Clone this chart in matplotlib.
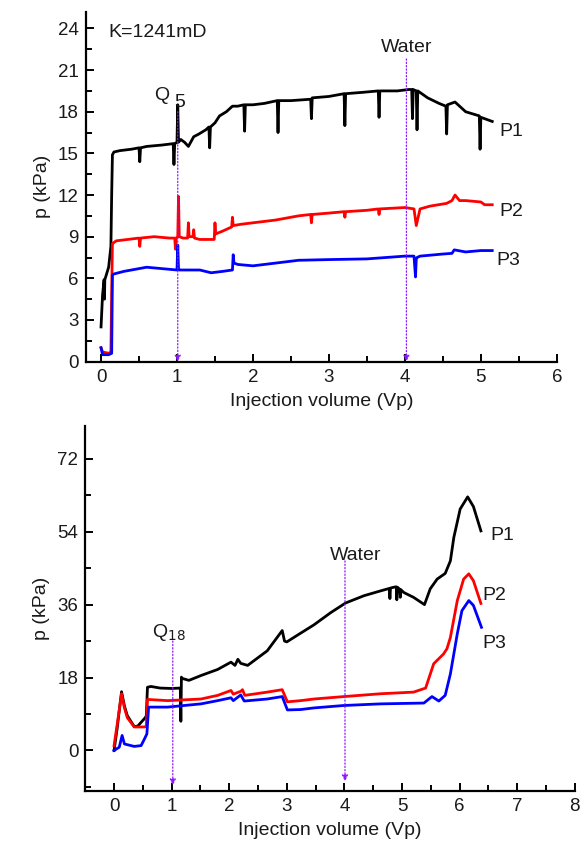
import numpy as np
import matplotlib
matplotlib.use('Agg')
import matplotlib.pyplot as plt
from matplotlib.ticker import MultipleLocator

plt.rcParams['font.family'] = ['Liberation Sans', 'DejaVu Sans']
plt.rcParams['font.size'] = 13

# ---- top panel (K=1241mD) ----
top_p1_x = [0, 0.02, 0.04, 0.045, 0.05, 0.1, 0.13, 0.14, 0.15, 0.17, 0.25, 0.4, 0.5, 0.51, 0.52,
            0.6, 0.8, 0.95, 0.96, 0.97, 1.0, 1.01, 1.02, 1.05, 1.1, 1.15, 1.17, 1.22, 1.29, 1.38,
            1.42, 1.43, 1.44, 1.5, 1.56, 1.65, 1.73, 1.8, 1.88, 1.89, 1.9, 2.0, 2.15, 2.32, 2.33,
            2.34, 2.5, 2.76, 2.77, 2.78, 3.0, 3.2, 3.21, 3.22, 3.45, 3.65, 3.66, 3.67, 3.9, 4.05,
            4.09, 4.10, 4.11, 4.15, 4.16, 4.17, 4.3, 4.45, 4.54, 4.55, 4.56, 4.66, 4.8, 4.98, 4.99,
            5.0, 5.15]
top_p1_y = [2.5, 4.8, 5.9, 4.5, 5.9, 6.8, 8.3, 12, 14.9, 15.1, 15.2, 15.3, 15.4, 14.4, 15.4,
            15.5, 15.6, 15.7, 14.2, 15.7, 15.8, 18.5, 15.8, 16.0, 15.8, 15.5, 15.7, 16.2, 16.4, 16.7,
            16.9, 15.4, 16.9, 17.2, 17.7, 18.0, 18.4, 18.4, 18.5, 16.6, 18.5, 18.5, 18.6, 18.8, 16.5,
            18.8, 18.8, 18.9, 17.5, 19.0, 19.1, 19.3, 17.0, 19.3, 19.4, 19.5, 17.6, 19.5, 19.5, 19.6,
            19.6, 17.5, 19.6, 19.5, 16.7, 19.5, 19.0, 18.6, 18.4, 16.4, 18.5, 18.7, 18.0, 17.7, 15.3,
            17.6, 17.3]

top_p2_x = [0, 0.02, 0.1, 0.13, 0.14, 0.15, 0.2, 0.35, 0.5, 0.51, 0.52, 0.7, 0.9, 0.97, 0.98,
            0.99, 1.01, 1.02, 1.03, 1.08, 1.14, 1.15, 1.16, 1.21, 1.22, 1.23, 1.3, 1.45, 1.49, 1.5,
            1.51, 1.6, 1.72, 1.73, 1.74, 1.85, 2.0, 2.3, 2.6, 2.76, 2.77, 2.78, 3.0, 3.2, 3.21, 3.22,
            3.5, 3.65, 3.66, 3.67, 4.0, 4.12, 4.15, 4.2, 4.33, 4.55, 4.62, 4.66, 4.72, 4.8, 5.0,
            5.05, 5.15]
top_p2_y = [1.0, 0.7, 0.6, 0.7, 5, 8.5, 8.7, 8.8, 8.9, 8.3, 8.9, 9.0, 8.9, 8.9, 8.1,
            8.9, 9.0, 11.9, 9.0, 8.9, 8.9, 10.0, 9.0, 9.0, 9.5, 8.9, 8.8, 8.8, 8.8, 10.0,
            9.2, 9.4, 9.7, 10.4, 9.8, 9.9, 10.0, 10.2, 10.5, 10.6, 10.0, 10.6, 10.7, 10.8, 10.4, 10.8,
            10.9, 11.0, 10.6, 11.0, 11.1, 11.0, 9.8, 11.0, 11.2, 11.4, 11.6, 12.0, 11.6, 11.6, 11.5,
            11.3, 11.3]

top_p3_x = [0, 0.02, 0.1, 0.14, 0.15, 0.16, 0.3, 0.6, 0.8, 1.0, 1.01, 1.02, 1.03, 1.1, 1.3,
            1.45, 1.6, 1.73, 1.74, 1.75, 1.8, 2.0, 2.3, 2.6, 3.0, 3.5, 4.0, 4.12, 4.14, 4.15, 4.16,
            4.2, 4.5, 4.62, 4.65, 4.8, 5.0, 5.15]
top_p3_y = [1.0, 0.5, 0.5, 0.6, 6.2, 6.3, 6.5, 6.8, 6.7, 6.6, 8.4, 6.7, 6.6, 6.6, 6.6,
            6.4, 6.5, 6.6, 7.7, 7.1, 7.0, 6.9, 7.1, 7.3, 7.35, 7.4, 7.6, 7.6, 6.1, 7.4, 7.5,
            7.6, 7.75, 7.8, 8.05, 7.9, 8.0, 8.0]

# ---- bottom panel ----
bot_p1_x = [0, 0.05, 0.13, 0.18, 0.23, 0.35, 0.41, 0.53, 0.56, 0.58, 0.64, 0.8, 1.0, 1.15,
            1.16, 1.17, 1.18, 1.3, 1.51, 1.8, 2.03, 2.1, 2.15, 2.2, 2.32, 2.66, 2.92, 2.96,
            3.0, 3.2, 3.47, 3.76, 4.02, 4.34, 4.63, 4.78, 4.79, 4.8, 4.86, 4.9, 4.91, 4.92,
            4.96, 4.97, 4.98, 5.03, 5.2, 5.39, 5.49, 5.61, 5.75, 5.84, 5.9, 6.01, 6.14, 6.24, 6.37]
bot_p1_y = [0, 5, 14.5, 11, 8.6, 5.9, 6.0, 7.9, 8.5, 15.6, 15.8, 15.4, 15.3, 15.4,
            7.2, 18.1, 17.8, 17.3, 18.5, 20.0, 21.8, 21.0, 22.5, 21.5, 21.0, 24.6, 29.6, 27.0,
            26.8, 28.6, 31.0, 34.0, 36.4, 38.2, 39.4, 40.0, 37.5, 40.1, 40.3, 40.4, 37.2, 40.3,
            39.8, 37.8, 39.7, 39.0, 37.8, 36.0, 39.9, 42.3, 43.7, 46.8, 52.6, 59.6, 62.6, 60.2, 54.2]

bot_p2_x = [0, 0.05, 0.13, 0.18, 0.23, 0.35, 0.53, 0.56, 0.58, 0.93, 1.51, 1.8, 2.03, 2.07,
            2.2, 2.23, 2.27, 2.66, 2.92, 3.01, 3.24, 3.47, 3.99, 4.63, 5.2, 5.41, 5.55, 5.72,
            5.78, 5.84, 5.96, 6.07, 6.16, 6.24, 6.37]
bot_p2_y = [1.2, 6, 14.0, 10.5, 8.1, 5.8, 5.8, 6.0, 12.6, 12.3, 12.7, 13.6, 14.8, 13.9,
            14.6, 15.0, 13.6, 14.4, 15.0, 12.0, 12.3, 12.7, 13.3, 14.0, 14.4, 15.4, 21.4, 23.8,
            25.1, 27.9, 37.0, 42.3, 43.6, 41.9, 36.3]

bot_p3_x = [0, 0.09, 0.14, 0.18, 0.35, 0.47, 0.53, 0.57, 0.6, 0.93, 1.51, 1.8, 2.03, 2.07,
            2.2, 2.26, 2.66, 2.92, 3.01, 3.24, 3.47, 3.99, 4.63, 5.38, 5.52, 5.64, 5.75, 5.84,
            5.96, 6.04, 6.16, 6.24, 6.38]
bot_p3_y = [0, 0.8, 3.7, 1.6, 1.0, 1.2, 2.9, 4.1, 10.7, 10.7, 11.5, 12.3, 13.0, 12.3,
            13.7, 12.2, 12.7, 13.3, 10.0, 10.1, 10.5, 11.1, 11.5, 11.7, 13.3, 12.2, 13.6, 18.9,
            28.8, 34.5, 37.0, 35.8, 30.4]

purple = '#8c1aff'
txt = '#1a1a1a'
lw = 2.0
fs = 14


def style_axes(ax, xmaj, ymaj):
    for s in ['top', 'right']:
        ax.spines[s].set_visible(False)
    for s in ['left', 'bottom']:
        ax.spines[s].set_linewidth(1.6)
    ax.xaxis.set_major_locator(MultipleLocator(xmaj))
    ax.xaxis.set_minor_locator(MultipleLocator(xmaj / 2))
    ax.yaxis.set_major_locator(MultipleLocator(ymaj))
    ax.yaxis.set_minor_locator(MultipleLocator(ymaj / 2))
    ax.tick_params(which='both', direction='in', width=1.4, colors='black', labelcolor=txt)
    ax.tick_params(which='major', length=6, labelsize=13.5, pad=5)
    ax.tick_params(which='minor', length=4)
    ax.set_xlabel('Injection volume (Vp)', fontsize=fs, color=txt, labelpad=5)
    ax.set_ylabel('p (kPa)', fontsize=fs, color=txt, labelpad=5)


def marker_line(ax, x, y0, y1):
    ax.annotate('', xy=(x, y1), xytext=(x, y0),
                arrowprops=dict(arrowstyle='-|>', color=purple, lw=0.9, ls=':',
                                mutation_scale=9, shrinkA=0, shrinkB=0))


fig = plt.figure(figsize=(5.8, 8.41), dpi=100)

ax1 = fig.add_axes([0.148, 0.570, 0.812, 0.416])
ax1.plot(top_p1_x, top_p1_y, color='black', lw=lw)
ax1.plot(top_p2_x, top_p2_y, color='red', lw=lw)
ax1.plot(top_p3_x, top_p3_y, color='blue', lw=lw)
marker_line(ax1, 1.01, 18.0, 0.0)
marker_line(ax1, 4.02, 21.8, 0.0)
ax1.set_xlim(-0.2, 6)
ax1.set_ylim(0, 25.2)
style_axes(ax1, 1, 3)
ax1.text(0.1, 23.7, 'K=1241mD', fontsize=fs, color=txt, va='center')
ax1.text(0.70, 19.2, 'Q', fontsize=fs, color=txt, va='center')
ax1.text(0.96, 18.7, '5', fontsize=fs, color=txt, va='center')
ax1.text(4.02, 22.6, 'Water', fontsize=fs, color=txt, va='center', ha='center')
ax1.text(5.25, 16.6, 'P1', fontsize=fs, color=txt, va='center')
ax1.text(5.25, 10.8, 'P2', fontsize=fs, color=txt, va='center')
ax1.text(5.21, 7.3, 'P3', fontsize=fs, color=txt, va='center')

ax2 = fig.add_axes([0.147, 0.0595, 0.844, 0.4335])
ax2.plot(bot_p1_x, bot_p1_y, color='black', lw=lw)
ax2.plot(bot_p2_x, bot_p2_y, color='red', lw=lw)
ax2.plot(bot_p3_x, bot_p3_y, color='blue', lw=lw)
marker_line(ax2, 1.02, 27.0, -8.6)
marker_line(ax2, 4.01, 46.8, -7.6)
ax2.set_xlim(-0.5, 8)
ax2.set_ylim(-10, 80)
style_axes(ax2, 1, 18)
ax2.text(0.66, 29.0, 'Q$_{18}$', fontsize=fs, color=txt, va='center')
ax2.text(4.2, 48.1, 'Water', fontsize=fs, color=txt, va='center', ha='center')
ax2.text(6.53, 53.0, 'P1', fontsize=fs, color=txt, va='center')
ax2.text(6.39, 38.2, 'P2', fontsize=fs, color=txt, va='center')
ax2.text(6.39, 26.3, 'P3', fontsize=fs, color=txt, va='center')

fig.savefig('out.png', dpi=100)
